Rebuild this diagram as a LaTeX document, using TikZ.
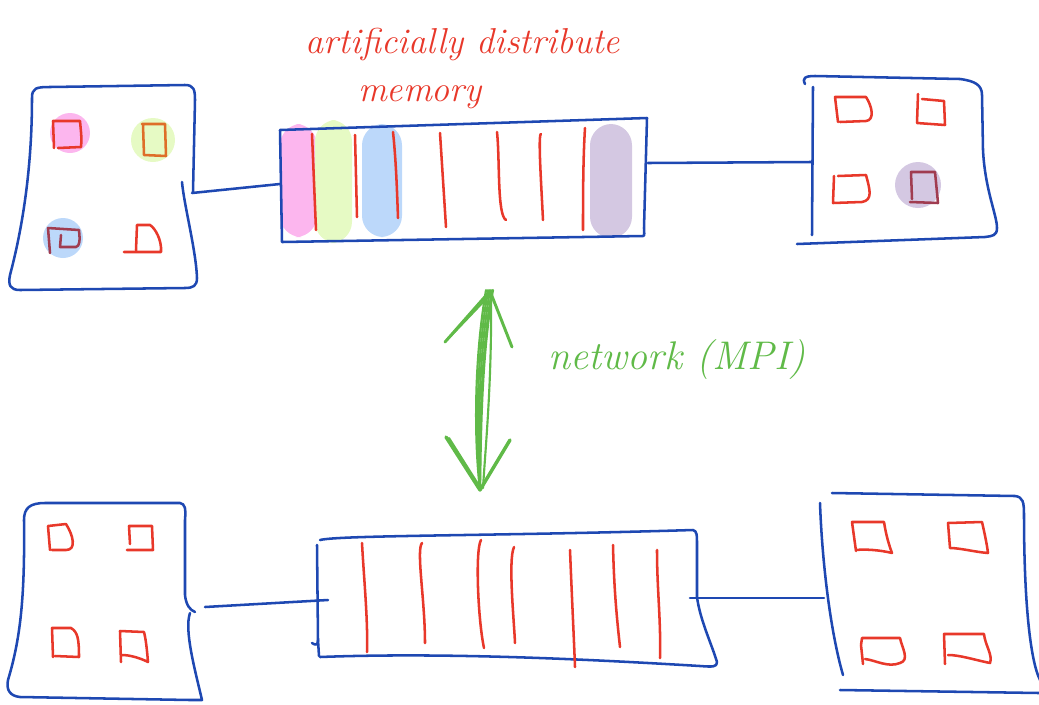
\documentclass[tikz,border=0pt]{standalone}
\usepackage{fontspec}
\begin{document}
\definecolor{penblue}{RGB}{30,72,178}
\definecolor{penred}{RGB}{232,56,42}
\definecolor{pengreen}{RGB}{96,186,72}
\definecolor{hlpink}{RGB}{252,182,238}
\definecolor{hlgreen}{RGB}{230,250,196}
\definecolor{hlblue}{RGB}{188,216,250}
\definecolor{hlpurple}{RGB}{212,200,226}
\definecolor{penorange}{RGB}{222,110,40}
\definecolor{penwine}{RGB}{160,60,80}
\begin{tikzpicture}[x=0.75pt,y=-0.75pt,
  board/.style={draw=penblue,line width=1.9pt,line cap=round,line join=round},
  wire/.style={draw=penblue,line width=1.9pt,line cap=round},
  slot/.style={draw=penred,line width=1.9pt,line cap=round},
  core/.style={draw=penred,line width=1.9pt,line cap=round,line join=round},
  band/.style={fill=#1,draw=none,rounded corners=16pt},
  blob/.style={fill=#1,draw=none},
  note/.style={text=penred,font=\fontsize{27}{30}\selectfont\itshape,inner sep=0pt},
  netnote/.style={text=pengreen,font=\fontsize{30}{32}\selectfont\itshape,inner sep=0pt},
  arrowpen/.style={draw=pengreen,line width=1.6pt,line cap=round,line join=round}]
\useasboundingbox (0,0) rectangle (1039,704);

% ---------- top left board ----------
\fill[blob=hlpink] (70,133) circle (20);
\fill[blob=hlgreen] (153,140) circle (22);
\fill[blob=hlblue] (63,238) circle (20);
\draw[board] (182,182) .. controls (184,205) and (196,250) .. (197,278)
  .. controls (197,286) and (193,288) .. (185,288) -- (20,290)
  .. controls (10,290) and (8,285) .. (10,275)
  .. controls (22,230) and (32,170) .. (32,98)
  .. controls (32,88) and (36,87) .. (50,87) -- (185,85)
  .. controls (194,85) and (195,90) .. (195,100) -- (193,192);
\coordinate (tlR) at (192,193);
\draw[core,draw=penred] (54,148) -- (53,121) -- (80,121) .. controls (81,132) and (82,140) .. (81,147) -- (58,148);
\draw[core,draw=penorange] (143,125) -- (144,155) -- (166,156) -- (165,124) -- (142,124);
\draw[core,draw=penwine] (50,253) -- (48,228) -- (79,230) .. controls (80,240) and (80,246) .. (76,247) -- (60,247) -- (61,235);
\draw[core] (124,252) -- (161,252) .. controls (162,240) and (155,228) .. (150,225) -- (137,225) -- (136,250);

% ---------- top memory bar ----------
\fill[band=hlpink] (280,124) rectangle (317,237);
\fill[band=hlgreen] (315,120) rectangle (352,243);
\fill[band=hlblue] (362,124) rectangle (402,237);
\fill[band=hlpurple] (590,124) rectangle (632,238);
\draw[board] (280,130) -- (282,242) -- (643,236) .. controls (645,236) and (644,232) .. (644,228)
  -- (647,118) -- (280,130);
\coordinate (tbL) at (280,184);
\coordinate (tbR) at (648,163);
\draw[slot] (312,134) -- (316,230);
\draw[slot] (355,135) -- (357,217);
\draw[slot] (393,132) .. controls (396,160) and (397,190) .. (398,218);
\draw[slot] (440,133) -- (446,227);
\draw[slot] (497,132) .. controls (500,160) and (497,215) .. (506,220);
\draw[slot] (541,134) .. controls (538,134) and (541,180) .. (543,220);
\draw[slot] (585,128) .. controls (583,160) and (583,200) .. (583,230);
\draw[wire] (tlR) -- (tbL);

% ---------- top right board ----------
\fill[blob=hlpurple] (918,185) circle (23);
\draw[board] (813,87) -- (812,235);
\draw[board] (805,84) .. controls (802,78) and (805,76) .. (815,76) -- (960,79)
  .. controls (975,81) and (982,85) .. (982,95) -- (983,150)
  .. controls (985,190) and (997,215) .. (997,228) .. controls (997,236) and (992,236) .. (985,237)
  -- (797,244);
\coordinate (trL) at (811,162);
\draw[wire] (tbR) -- (trL);
\draw[core] (838,122) -- (835,97) -- (866,97) .. controls (872,106) and (875,120) .. (866,121) -- (840,122);
\draw[core] (918,94) -- (917,123) -- (945,125) -- (944,101) -- (922,99);
\draw[core] (834,176) -- (833,203) -- (862,202) .. controls (873,200) and (870,190) .. (866,175) -- (838,176);
\draw[core,draw=penwine] (910,202) -- (938,203) -- (935,172) -- (911,172) -- (912,199);

% ---------- network arrow ----------
\foreach \dx in {0,-2,2,-4,3}{
  \draw[arrowpen] (490+\dx,290) .. controls (478+\dx,360) and (478+\dx,440) .. (480,490);
}
\draw[arrowpen,line width=2.2pt] (445,342) -- (490,291) -- (512,347);
\draw[arrowpen] (447,340) -- (487,298);
\draw[arrowpen] (491,293) .. controls (492,380) and (486,440) .. (483,488);
\draw[arrowpen,line width=2.6pt] (446,437) -- (480,490) -- (510,440);
\draw[arrowpen] (449,438) -- (478,484);
\node[netnote] (net) at (677,360) {network (MPI)};

% ---------- label ----------
\node[note] (lbl1) at (463,44) {artificially distribute};
\node[note] (lbl2) at (420,97) {memory};

% ---------- bottom left board ----------
\draw[board] (190,613) .. controls (184,630) and (195,670) .. (202,700)
  -- (190,700) -- (20,697) .. controls (10,696) and (6,690) .. (8,680)
  .. controls (20,640) and (25,600) .. (24,520)
  .. controls (24,508) and (30,503) .. (45,503) -- (180,503)
  .. controls (185,504) and (186,508) .. (185,520) -- (185,595)
  .. controls (186,605) and (190,610) .. (195,612);
\coordinate (blR) at (205,607);
\draw[core] (50,550) -- (48,526) -- (66,524) .. controls (73,535) and (77,550) .. (66,550) -- (52,550);
\draw[core] (127,550) -- (153,550) -- (152,526) -- (129,526) -- (130,544);
\draw[core] (53,657) -- (52,628) -- (71,628) .. controls (78,632) and (79,640) .. (79,657) -- (55,656);
\draw[core] (121,662) -- (120,631) -- (144,632) .. controls (146,640) and (147,650) .. (148,662) .. controls (140,658) and (130,655) .. (122,655);

% ---------- bottom memory bar ----------
\draw[board] (320,540) .. controls (340,535) and (500,536) .. (693,530)
  .. controls (697,531) and (697,535) .. (697,545) -- (697,597)
  .. controls (700,620) and (712,645) .. (717,662) .. controls (717,667) and (713,667) .. (700,666)
  .. controls (600,660) and (450,652) .. (320,657);
\draw[board] (317,545) -- (318,640) .. controls (318,646) and (315,645) .. (312,643);
\draw[board] (318,640) -- (319,656);
\coordinate (bbL) at (328,600);
\coordinate (bbR) at (690,598);
\draw[slot] (362,543) .. controls (364,580) and (368,620) .. (367,652);
\draw[slot] (422,543) .. controls (416,550) and (425,600) .. (425,643);
\draw[slot] (481,540) .. controls (475,550) and (478,620) .. (484,648);
\draw[slot] (514,547) .. controls (508,560) and (514,620) .. (515,643);
\draw[slot] (570,550) .. controls (572,600) and (574,640) .. (575,667);
\draw[slot] (613,545) .. controls (614,590) and (617,620) .. (620,647);
\draw[slot] (657,550) .. controls (657,590) and (661,620) .. (660,658);
\draw[wire] (blR) -- (bbL);

% ---------- bottom right board ----------
\draw[board] (820,503) .. controls (822,560) and (830,630) .. (843,675);
\draw[board] (832,493) -- (1015,496) .. controls (1023,497) and (1024,502) .. (1024,515)
  .. controls (1024,600) and (1030,660) .. (1040,680);
\draw[board] (840,690) -- (1039,693);
\coordinate (brL) at (824,598);
\draw[wire] (bbR) -- (brL);
\draw[core] (856,551) -- (852,522) -- (884,522) .. controls (886,535) and (889,545) .. (892,553) .. controls (880,550) and (865,549) .. (856,550);
\draw[core] (950,548) -- (948,523) -- (982,522) .. controls (985,535) and (987,545) .. (988,553) .. controls (975,552) and (960,548) .. (950,548);
\draw[core] (863,664) -- (861,645) -- (862,638) -- (900,638) .. controls (902,648) and (910,660) .. (900,663) .. controls (888,668) and (875,660) .. (865,659);
\draw[core] (945,664) -- (944,634) -- (984,634) .. controls (985,645) and (993,655) .. (990,663) .. controls (975,660) and (960,655) .. (948,655);
\end{tikzpicture}
\end{document}
